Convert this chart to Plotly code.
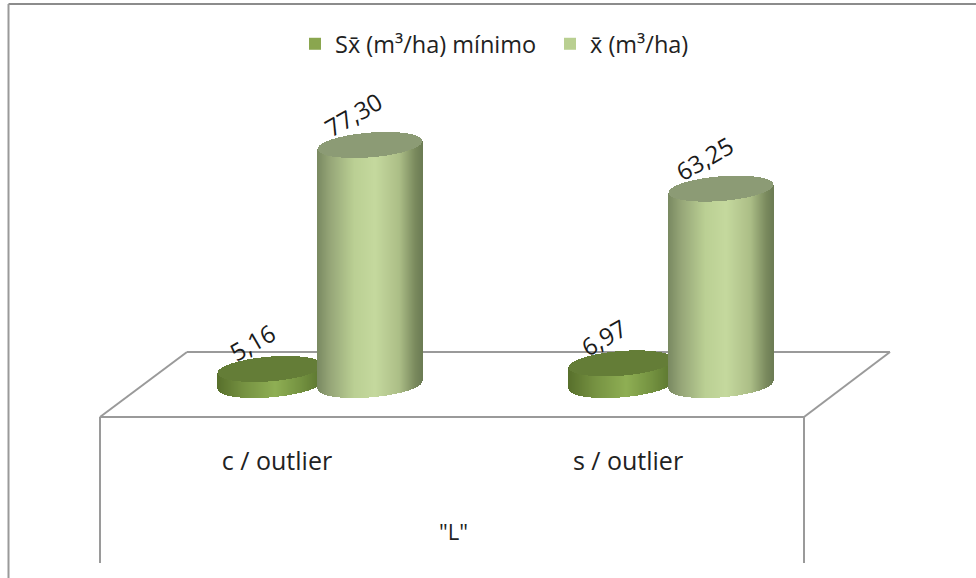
import numpy as np
import plotly.graph_objects as go

categories = ["c / outlier", "s / outlier"]
axis_title = '"L"'
series_names = ["Sx̄ (m³/ha) mínimo", "x̄ (m³/ha)"]
sx_min = [5.16, 6.97]
x_mean = [77.30, 63.25]
value_labels_sx = ["5,16", "6,97"]
value_labels_x = ["77,30", "63,25"]

W, H = 976, 578
PX_PER_CAT = 351.0      # pixels between categories
PX_PER_VAL = 3.105      # pixels per m3/ha
X0_PX, Y0_PX = 277.0, 385.0   # pixel of category 0 / value 0
xr = [-X0_PX / PX_PER_CAT, (W - X0_PX) / PX_PER_CAT]
yr = [-(H - Y0_PX) / PX_PER_VAL, Y0_PX / PX_PER_VAL]

A, B, K = 52.5, 12.4, 4.0   # ellipse half width, half height, tilt (px)


def lerp_colors(stops, t):
    pos = [s[0] for s in stops]
    rgb = np.array([s[1] for s in stops], float)
    return [f"rgb({int(np.interp(v,pos,rgb[:,0]))},{int(np.interp(v,pos,rgb[:,1]))},{int(np.interp(v,pos,rgb[:,2]))})" for v in t]


LIGHT = [(0, (122, 138, 98)), (0.12, (150, 166, 120)), (0.35, (187, 208, 148)), (0.55, (197, 217, 158)),
         (0.78, (172, 190, 135)), (0.93, (122, 138, 94)), (1, (108, 124, 84))]
DARK = [(0, (88, 112, 44)), (0.25, (118, 146, 66)), (0.55, (143, 175, 84)), (0.8, (115, 145, 64)), (1, (90, 116, 46))]
TOP_LIGHT = "#8c9b75"
TOP_DARK = "#647d37"
LEG_DARK = "#8aa64f"
LEG_LIGHT = "#b9cf91"

fig = go.Figure()


def cylinder(i, value, off_px, stops, top_color):
    cx = i + off_px / PX_PER_CAT
    u = np.arange(-A, A + 1.0, 1.0)
    c = np.clip(u / A, -1, 1)
    s = np.sqrt(1 - c ** 2)
    # pixel offsets below / above the ellipse centre, converted to value units
    lower = (-B * s + K * c) / PX_PER_VAL
    upper = (B * s + K * c) / PX_PER_VAL
    xs = cx + u / PX_PER_CAT
    w = 1.0 / PX_PER_CAT
    colors = lerp_colors(stops, (u + A) / (2 * A))
    fig.add_trace(go.Bar(x=xs, y=value + K * c / PX_PER_VAL - lower, base=lower, width=w,
                         marker=dict(color=colors, line=dict(width=0)),
                         showlegend=False, hoverinfo="skip"))
    fig.add_trace(go.Bar(x=xs, y=upper - lower, base=value + lower, width=w,
                         marker=dict(color=top_color, line=dict(width=0)),
                         showlegend=False, hoverinfo="skip"))


SMALL_OFF, BIG_OFF = -7.0, 93.0
# real data bars (carry the legend), hidden behind the shaded cylinders
fig.add_trace(go.Bar(x=[i + SMALL_OFF / PX_PER_CAT for i in range(2)], y=sx_min, name=series_names[0],
                     width=60 / PX_PER_CAT, marker=dict(color=LEG_DARK, line=dict(width=0))))
fig.add_trace(go.Bar(x=[i + BIG_OFF / PX_PER_CAT for i in range(2)], y=x_mean, name=series_names[1],
                     width=60 / PX_PER_CAT, marker=dict(color=LEG_LIGHT, line=dict(width=0))))

for i in range(2):
    cylinder(i, sx_min[i], SMALL_OFF, DARK, TOP_DARK)
    cylinder(i, x_mean[i], BIG_OFF, LIGHT, TOP_LIGHT)

annotations = []
for i in range(2):
    annotations.append(dict(x=i + (SMALL_OFF - 18) / PX_PER_CAT, y=sx_min[i], yshift=26, text=value_labels_sx[i]))
    annotations.append(dict(x=i + (BIG_OFF - 17) / PX_PER_CAT, y=x_mean[i], yshift=30, text=value_labels_x[i]))
for a in annotations:
    a.update(xref="x", yref="y", textangle=-30, showarrow=False, font=dict(size=24, color="#1a1a1a"))
annotations.append(dict(x=453 / W, y=1 - 531 / H, xref="paper", yref="paper", text=axis_title, showarrow=False,
                        xanchor="center", yanchor="middle", font=dict(size=22, color="#222222")))


def seg(x0, y0, x1, y1):
    return dict(type="line", xref="paper", yref="paper", x0=x0 / W, x1=x1 / W, y0=1 - y0 / H, y1=1 - y1 / H,
                line=dict(color="#9a9a9a", width=2), layer="below")


shapes = [
    seg(8.5, 4, 976, 4), seg(8.5, 4, 8.5, 578),
    seg(187, 352, 890, 352), seg(187, 352, 100, 417), seg(890, 352, 804, 417),
    seg(100, 417, 804, 417), seg(100, 417, 100, 563), seg(804, 417, 804, 563),
]
shapes[0]["line"]["color"] = "#8c8c8c"

fig.update_layout(
    width=W, height=H, margin=dict(l=0, r=0, t=0, b=0), autosize=False,
    paper_bgcolor="white", plot_bgcolor="white", barmode="overlay", bargap=0,
    font=dict(family="Open Sans", color="#222222", size=23),
    shapes=shapes, annotations=annotations,
    legend=dict(orientation="h", x=295 / W, xanchor="left", y=1 - 44 / H, yanchor="middle",
                entrywidth=210, entrywidthmode="pixels",
                font=dict(size=23.5, color="#222222"), bgcolor="rgba(0,0,0,0)"),
    xaxis=dict(range=xr, tickmode="array", tickvals=[0, 1], ticktext=categories, showgrid=False, zeroline=False,
               showline=False, ticks="", anchor="free", position=1 - 444 / H,
               tickfont=dict(size=25, color="#222222")),
    yaxis=dict(range=yr, visible=False, showgrid=False, zeroline=False),
)

fig.write_html("out.html", config=dict(displayModeBar=False),
               post_script="document.body.style.margin='0';document.body.style.overflow='hidden';")
